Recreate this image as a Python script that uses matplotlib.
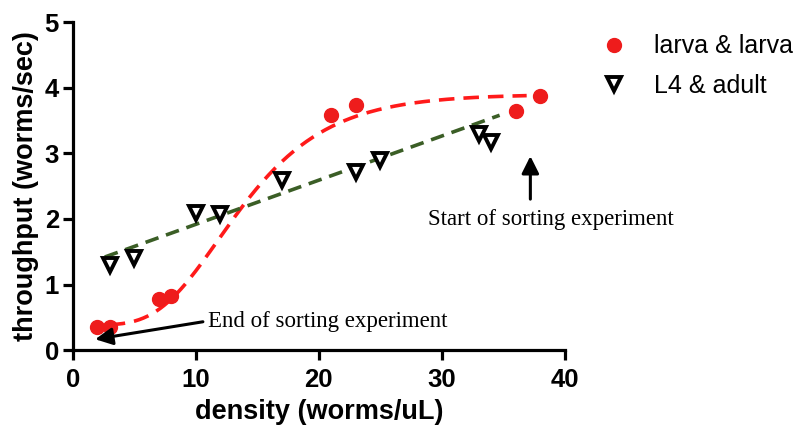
import numpy as np
import matplotlib.pyplot as plt

# larva & larva (red circles)
larva_x = [2, 3, 7, 8, 21, 23, 36, 38]
larva_y = [0.35, 0.35, 0.78, 0.82, 3.58, 3.73, 3.64, 3.87]

# L4 & adult (open down triangles)
adult_x = [3, 5, 10, 12, 17, 23, 25, 33, 34]
adult_y = [1.30, 1.40, 2.09, 2.07, 2.59, 2.71, 2.90, 3.30, 3.17]

# fitted curves (Gompertz for red, straight line for green)
gz_bottom, gz_top, gz_rate, gz_mid = 0.38, 3.90, 0.205, 11.8
lin_slope, lin_icpt = 0.0673, 1.245

plt.rcParams['font.family'] = ['Liberation Sans', 'DejaVu Sans']

fig = plt.figure(figsize=(8, 4.25), dpi=100)
ax = fig.add_axes([0.091, 0.176, 0.615, 0.772])

xs = np.linspace(3, 36.9, 200)
ys = gz_bottom + (gz_top - gz_bottom) * np.exp(-np.exp(-gz_rate * (xs - gz_mid)))
ax.plot(xs, ys, color='#ff1a1a', lw=2.6, dashes=(4.3, 2.5), zorder=2)

xl = np.array([2.6, 34.7])
ax.plot(xl, lin_icpt + lin_slope * xl, color='#3b5e26', lw=2.6, dashes=(3.8, 2.2), zorder=2)

ax.plot(larva_x, larva_y, 'o', color='#ee1c1c', ms=10, mec='#ee1c1c', label='larva & larva', zorder=3)
ax.plot(adult_x, adult_y, 'v', color='black', mfc='white', mew=2.8, ms=10.5, label='L4 & adult', zorder=3)

ax.annotate('', xy=(1.6, 0.16), xytext=(10.8, 0.44),
            arrowprops=dict(arrowstyle='-|>', color='black', lw=2.2, mutation_scale=26))
ax.text(11.0, 0.43, 'End of sorting experiment', family='Liberation Serif',
        fontsize=16.5, va='center', ha='left')
ax.annotate('', xy=(37.2, 3.0), xytext=(37.2, 2.26),
            arrowprops=dict(arrowstyle='-|>', color='black', lw=2.2, mutation_scale=26))
ax.text(38.9, 1.99, 'Start of sorting experiment', family='Liberation Serif',
        fontsize=16.5, va='center', ha='center')

ax.set_xlim(0, 40)
ax.set_ylim(0, 5)
ax.set_xticks([0, 10, 20, 30, 40])
ax.set_yticks([0, 1, 2, 3, 4, 5])
for s in ['top', 'right']:
    ax.spines[s].set_visible(False)
for s in ['left', 'bottom']:
    ax.spines[s].set_linewidth(2.3)
ax.tick_params(width=2.3, length=7, labelsize=18.5)
ax.tick_params(axis='x', pad=6)
ax.tick_params(axis='y', pad=3)
for lab in ax.get_xticklabels() + ax.get_yticklabels():
    lab.set_fontweight('bold')
ax.set_xlabel('density (worms/uL)', fontsize=19.5, fontweight='bold', labelpad=5)
ax.set_ylabel('throughput (worms/sec)', fontsize=19.5, fontweight='bold', labelpad=4)

fig.legend(loc='upper left', bbox_to_anchor=(0.72, 0.972), frameon=False,
           fontsize=18, handletextpad=1.0, labelspacing=0.62, handlelength=1.2)

fig.savefig('out.png', dpi=100)
